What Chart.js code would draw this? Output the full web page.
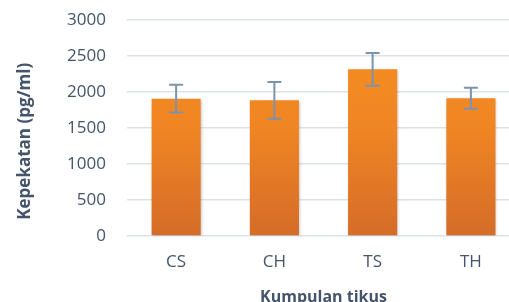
<!DOCTYPE html>
<html>
<head>
<meta charset="utf-8">
<script src="https://cdn.jsdelivr.net/npm/chart.js@4.4.1/dist/chart.umd.min.js"></script>
<style>
  html, body { margin: 0; padding: 0; background: #fff; overflow: hidden; }
  #wrap { position: absolute; left: 0; top: 0; width: 520px; height: 314px; }
</style>
</head>
<body>
<div id="wrap"><canvas id="chart"></canvas></div>
<script>
// Data
const groups = ["CS", "CH", "TS", "TH"];
const concentration = [1907, 1884, 2315, 1912];
const errorSize = [192, 255, 228, 146];
const yTicks = [0, 500, 1000, 1500, 2000, 2500, 3000];

const textColor = "#44546a";

// Simple error bar drawing, no plugin library available
const errorBars = {
  id: "errorBars",
  afterDatasetsDraw(chart) {
    const ctx = chart.ctx;
    const yScale = chart.scales.y;
    const meta = chart.getDatasetMeta(0);
    ctx.save();
    ctx.strokeStyle = "#7a93b0";
    ctx.lineWidth = 2;
    meta.data.forEach((bar, i) => {
      const x = bar.x;
      const top = yScale.getPixelForValue(concentration[i] + errorSize[i]);
      const bottom = yScale.getPixelForValue(concentration[i] - errorSize[i]);
      ctx.beginPath();
      ctx.moveTo(x, top);
      ctx.lineTo(x, bottom);
      ctx.moveTo(x - 7, top);
      ctx.lineTo(x + 7, top);
      ctx.moveTo(x - 7, bottom);
      ctx.lineTo(x + 7, bottom);
      ctx.stroke();
    });
    ctx.restore();
  },
};

// soft shadow under the bars
const barShadow = {
  id: "barShadow",
  beforeDatasetsDraw(chart) {
    chart.ctx.save();
    chart.ctx.shadowColor = "rgba(0,0,0,0.28)";
    chart.ctx.shadowBlur = 3;
    chart.ctx.shadowOffsetX = 1;
    chart.ctx.shadowOffsetY = 1;
  },
  afterDatasetsDraw(chart) {
    chart.ctx.restore();
  },
};

function barGradient(context) {
  const area = context.chart.chartArea;
  if (!area) return "#f18a25";
  const g = context.chart.ctx.createLinearGradient(0, area.top, 0, area.bottom);
  g.addColorStop(0, "#f7901f");
  g.addColorStop(0.5, "#f08523");
  g.addColorStop(1, "#d56c28");
  return g;
}

new Chart(document.getElementById("chart"), {
  type: "bar",
  data: {
    labels: groups,
    datasets: [
      {
        label: "Kepekatan",
        data: concentration,
        backgroundColor: barGradient,
        borderWidth: 0,
        barPercentage: 0.5,
        categoryPercentage: 1.0,
      },
    ],
  },
  options: {
    responsive: true,
    maintainAspectRatio: false,
    animation: false,
    layout: { padding: { top: 0, left: 15, right: 0, bottom: 0 } },
    plugins: {
      legend: { display: false },
      tooltip: { enabled: false },
    },
    scales: {
      x: {
        grid: { display: false, drawTicks: false },
        border: { display: false },
        ticks: {
          color: textColor,
          padding: 16,
          font: { family: "Open Sans", size: 17 },
        },
        title: {
          display: true,
          text: "Kumpulan tikus",
          color: textColor,
          padding: { top: 6, bottom: 7 },
          font: { family: "Open Sans", size: 16, weight: "bold" },
        },
        afterFit(scale) {
          scale.height = 78;
        },
      },
      y: {
        min: 0,
        max: 3000,
        afterBuildTicks(scale) {
          scale.ticks = yTicks.map((v) => ({ value: v }));
        },
        grid: { color: "#dde2e8", lineWidth: 1.5, drawTicks: false },
        border: { display: false },
        ticks: {
          color: textColor,
          padding: 21,
          font: { family: "Open Sans", size: 17 },
          callback: (v) => String(v),
        },
        title: {
          display: true,
          // trailing spaces push the rotated title a bit lower, like the original
          text: "Kepekatan (pg/ml)\u00a0\u00a0\u00a0\u00a0\u00a0\u00a0",
          color: textColor,
          padding: { top: 0, bottom: 4 },
          font: { family: "Open Sans", size: 17, weight: "bold" },
        },
        afterFit(scale) {
          scale.width = 112;
          scale.paddingTop = 20;
        },
      },
    },
  },
  plugins: [barShadow, errorBars],
});
</script>
</body>
</html>
